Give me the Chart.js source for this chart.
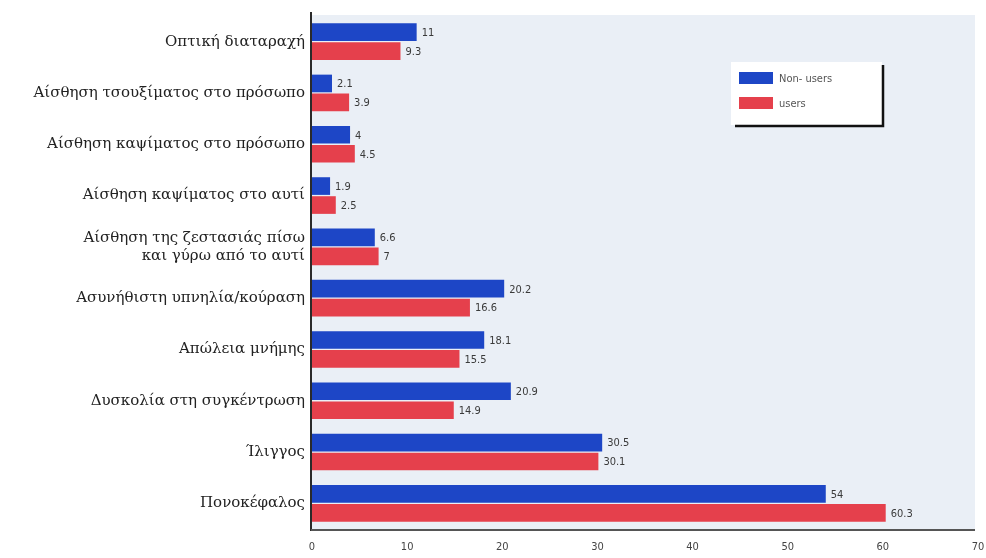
<!DOCTYPE html>
<html>
<head>
<meta charset="utf-8">
<script src="https://cdn.jsdelivr.net/npm/chart.js@4/dist/chart.umd.min.js"></script>
<style>
  html, body { margin: 0; padding: 0; background: #ffffff; }
  #wrap { width: 986px; height: 558px; position: relative; }
</style>
</head>
<body>
<div id="wrap"><canvas id="c" width="986" height="558"></canvas></div>
<script>
const categories = [
  'Οπτική διαταραχή',
  'Αίσθηση τσουξίματος στο πρόσωπο',
  'Αίσθηση καψίματος στο πρόσωπο',
  'Αίσθηση καψίματος στο αυτί',
  ['Αίσθηση της ζεστασιάς πίσω', 'και γύρω από το αυτί'],
  'Ασυνήθιστη υπνηλία/κούραση',
  'Απώλεια μνήμης',
  'Δυσκολία στη συγκέντρωση',
  'Ίλιγγος',
  'Πονοκέφαλος'
];
const nonUsers = [11, 2.1, 4, 1.9, 6.6, 20.2, 18.1, 20.9, 30.5, 54];
const users = [9.3, 3.9, 4.5, 2.5, 7, 16.6, 15.5, 14.9, 30.1, 60.3];
const seriesNames = ['Non- users', 'users'];
const xTicks = [0, 10, 20, 30, 40, 50, 60, 70];

const BLUE = '#1d46c6';
const RED = '#e5404c';

const decor = {
  id: 'decor',
  beforeDraw(chart) {
    const {ctx, chartArea: a} = chart;
    ctx.save();
    ctx.fillStyle = '#eaeff6';
    ctx.fillRect(a.left, a.top - 1, a.right - a.left - 3, a.bottom - a.top + 1);
    ctx.restore();
  },
  afterDatasetsDraw(chart) {
    const {ctx, chartArea: a} = chart;
    ctx.save();
    ctx.font = '11px "Liberation Sans Narrow", "DejaVu Sans Condensed", sans-serif';
    ctx.fillStyle = '#3a3a3a';
    ctx.textBaseline = 'middle';
    ctx.textAlign = 'left';
    chart.data.datasets.forEach((ds, di) => {
      const meta = chart.getDatasetMeta(di);
      meta.data.forEach((el, i) => {
        ctx.fillText(String(ds.data[i]), el.x + 5, el.y + 1);
      });
    });
    ctx.strokeStyle = '#2a2a2a';
    ctx.lineWidth = 2;
    ctx.beginPath();
    ctx.moveTo(a.left - 1, a.top - 4);
    ctx.lineTo(a.left - 1, a.bottom + 2);
    ctx.stroke();
    ctx.strokeStyle = '#555';
    ctx.beginPath();
    ctx.moveTo(a.left - 1, a.bottom + 1);
    ctx.lineTo(a.right - 3, a.bottom + 1);
    ctx.stroke();
    const lx = 731, ly = 62, lw = 151, lh = 63;
    ctx.fillStyle = '#ffffff';
    ctx.fillRect(lx, ly, lw, lh);
    ctx.strokeStyle = '#111';
    ctx.lineWidth = 2.5;
    ctx.beginPath();
    ctx.moveTo(lx + lw + 1, ly + 3);
    ctx.lineTo(lx + lw + 1, ly + lh + 1);
    ctx.lineTo(lx + 4, ly + lh + 1);
    ctx.stroke();
    const cols = [BLUE, RED];
    ctx.font = '11px "Liberation Sans Narrow", "DejaVu Sans Condensed", sans-serif';
    ctx.textBaseline = 'middle';
    seriesNames.forEach((n, i) => {
      const y = ly + 16 + i * 25;
      ctx.fillStyle = cols[i];
      ctx.fillRect(lx + 8, y - 6, 34, 12);
      ctx.fillStyle = '#555';
      ctx.fillText(n, lx + 48, y + 1);
    });
    ctx.restore();
  }
};

new Chart(document.getElementById('c'), {
  type: 'bar',
  data: {
    labels: categories,
    datasets: [
      { label: seriesNames[0], data: nonUsers, backgroundColor: BLUE, categoryPercentage: 0.74, barPercentage: 0.93 },
      { label: seriesNames[1], data: users, backgroundColor: RED, categoryPercentage: 0.74, barPercentage: 0.93 }
    ]
  },
  options: {
    indexAxis: 'y',
    responsive: false,
    animation: false,
    layout: { padding: { left: 0, top: 16, right: 8, bottom: 0 } },
    plugins: { legend: { display: false }, tooltip: { enabled: false } },
    scales: {
      y: {
        grid: { display: false, drawTicks: false },
        border: { display: false },
        ticks: {
          padding: 7,
          color: '#222',
          font: { family: '"DejaVu Serif", serif', size: 15 },
          lineHeight: 1.4
        },
        afterFit(s) { s.width = 312; s.paddingTop = 0; s.paddingBottom = 0; }
      },
      x: {
        min: 0, max: 70,
        afterBuildTicks(s) { s.ticks = xTicks.map(v => ({ value: v })); },
        grid: { display: false, drawTicks: false },
        border: { display: false },
        ticks: {
          padding: 12,
          color: '#444',
          font: { family: '"Liberation Sans Narrow", "DejaVu Sans Condensed", sans-serif', size: 11 },
          maxRotation: 0,
          autoSkip: false
        },
        afterFit(s) { s.height = 29; s.paddingLeft = 0; s.paddingRight = 0; }
      }
    }
  },
  plugins: [decor]
});
</script>
</body>
</html>
